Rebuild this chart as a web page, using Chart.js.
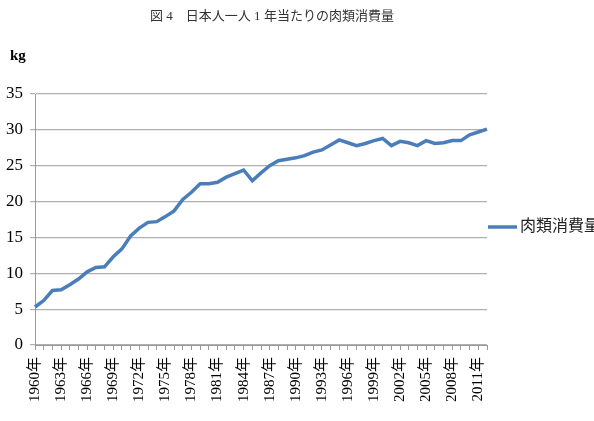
<!DOCTYPE html>
<html>
<head>
<meta charset="utf-8">
<script src="https://cdn.jsdelivr.net/npm/chart.js@4/dist/chart.umd.min.js"></script>
<style>
  html, body { margin: 0; padding: 0; background: #fff; }
  #wrap { width: 594px; height: 421px; position: relative; }
</style>
</head>
<body>
<div id="wrap"><canvas id="meatChart"></canvas></div>
<script>
const chartTitle = "図 4　日本人一人 1 年当たりの肉類消費量";
const unitLabel = "kg";
const seriesName = "肉類消費量";

const years = [
  1960, 1961, 1962, 1963, 1964, 1965, 1966, 1967, 1968, 1969,
  1970, 1971, 1972, 1973, 1974, 1975, 1976, 1977, 1978, 1979,
  1980, 1981, 1982, 1983, 1984, 1985, 1986, 1987, 1988, 1989,
  1990, 1991, 1992, 1993, 1994, 1995, 1996, 1997, 1998, 1999,
  2000, 2001, 2002, 2003, 2004, 2005, 2006, 2007, 2008, 2009,
  2010, 2011, 2012
];

const meatKg = [
  5.3, 6.2, 7.6, 7.7, 8.4, 9.2, 10.2, 10.8, 10.9, 12.3,
  13.4, 15.2, 16.3, 17.1, 17.2, 17.9, 18.7, 20.3, 21.3, 22.5,
  22.5, 22.7, 23.4, 23.9, 24.4, 22.9, 24.0, 25.0, 25.7, 25.9,
  26.1, 26.4, 26.9, 27.2, 27.9, 28.6, 28.2, 27.8, 28.1, 28.5,
  28.8, 27.8, 28.4, 28.2, 27.8, 28.5, 28.1, 28.2, 28.5, 28.5,
  29.3, 29.7, 30.1
];

const yTicks = [0, 5, 10, 15, 20, 25, 30, 35];

const labels = years.map((y) => y + "年");

const serif = "'Liberation Serif', 'Noto Sans CJK JP', serif";

// title, unit and legend drawn by hand to sit where the original has them
const extrasPlugin = {
  id: "extras",
  afterDraw(chart) {
    const ctx = chart.ctx;
    const area = chart.chartArea;
    ctx.save();
    ctx.fillStyle = "#333";
    ctx.textBaseline = "middle";
    ctx.textAlign = "center";
    ctx.font = "13px " + serif;
    ctx.fillText(chartTitle, 272, 17);

    ctx.textAlign = "left";
    ctx.font = "bold 15px " + serif;
    ctx.fillStyle = "#000";
    ctx.fillText(unitLabel, 10, 56);

    const ds = chart.data.datasets[0];
    const ly = 227;
    ctx.strokeStyle = ds.borderColor;
    ctx.lineWidth = ds.borderWidth;
    ctx.beginPath();
    ctx.moveTo(area.right + 1, ly);
    ctx.lineTo(area.right + 30, ly);
    ctx.stroke();
    ctx.fillStyle = "#222";
    ctx.font = "16px " + serif;
    ctx.fillText(ds.label, area.right + 33, ly);
    ctx.restore();
  },
};

new Chart(document.getElementById("meatChart"), {
  type: "line",
  data: {
    labels,
    datasets: [
      {
        label: seriesName,
        data: meatKg,
        borderColor: "#4a7ebb",
        borderWidth: 3.5,
        pointRadius: 0,
        tension: 0,
        fill: false,
      },
    ],
  },
  options: {
    responsive: true,
    maintainAspectRatio: false,
    animation: false,
    layout: { padding: { top: 94, right: 107, left: 0, bottom: 0 } },
    plugins: {
      legend: { display: false },
      title: { display: false },
      tooltip: { enabled: false },
    },
    scales: {
      x: {
        afterFit: (scale) => { scale.height = 76; },
        border: { color: "#9a9a9a", width: 1 },
        grid: {
          drawOnChartArea: false,
          drawTicks: true,
          tickLength: 5,
          color: "#9a9a9a",
        },
        ticks: {
          autoSkip: false,
          minRotation: 90,
          maxRotation: 90,
          padding: 7,
          color: "#000",
          font: { family: serif, size: 15 },
          callback: (value, index) => (index % 3 === 0 ? labels[index] : ""),
        },
      },
      y: {
        min: 0,
        max: 35,
        afterFit: (scale) => { scale.width = 35; },
        afterBuildTicks: (scale) => {
          scale.ticks = yTicks.map((v) => ({ value: v }));
        },
        border: { color: "#9a9a9a", width: 1 },
        grid: {
          color: "#b0b0b0",
          lineWidth: 1.2,
          tickLength: 5,
        },
        ticks: {
          padding: 7,
          color: "#000",
          font: { family: serif, size: 17 },
        },
      },
    },
  },
  plugins: [extrasPlugin],
});
</script>
</body>
</html>
